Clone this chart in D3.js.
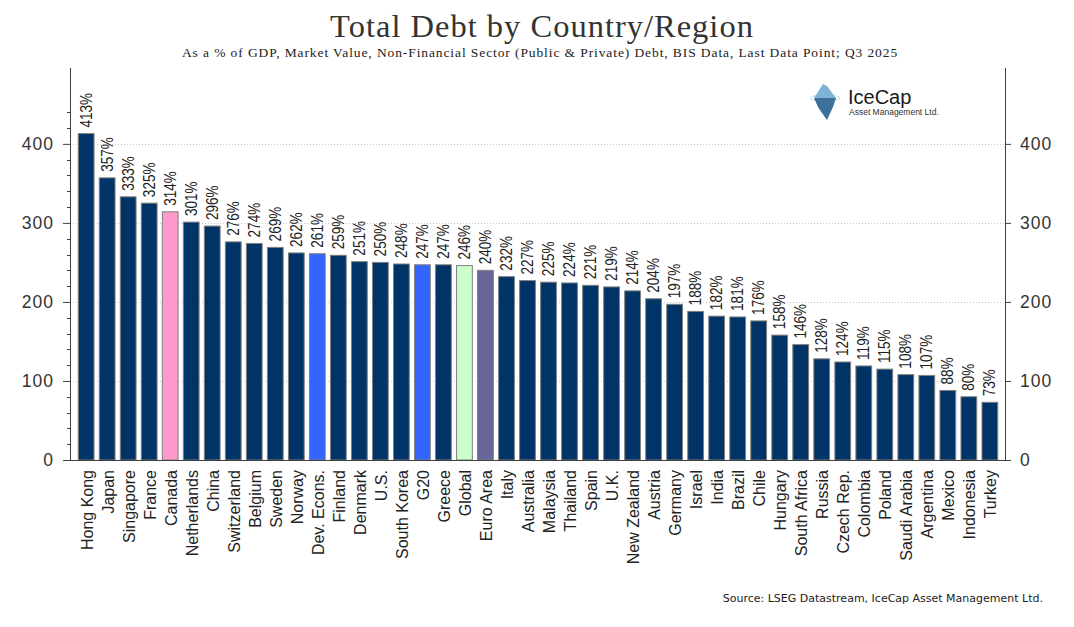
<!DOCTYPE html>
<html>
<head>
<meta charset="utf-8">
<script src="https://cdn.jsdelivr.net/npm/d3@7"></script>
<style>
  body { margin: 0; background: #fff; }
</style>
</head>
<body>
<svg id="chart" width="1074" height="627"></svg>
<script>
  var width = 1074;
  var height = 627;

  // data
  var categories = ["Hong Kong", "Japan", "Singapore", "France", "Canada", "Netherlands", "China",
    "Switzerland", "Belgium", "Sweden", "Norway", "Dev. Econs.", "Finland", "Denmark", "U.S.",
    "South Korea", "G20", "Greece", "Global", "Euro Area", "Italy", "Australia", "Malaysia",
    "Thailand", "Spain", "U.K.", "New Zealand", "Austria", "Germany", "Israel", "India", "Brazil",
    "Chile", "Hungary", "South Africa", "Russia", "Czech Rep.", "Colombia", "Poland",
    "Saudi Arabia", "Argentina", "Mexico", "Indonesia", "Turkey"];
  var values = [413, 357, 333, 325, 314, 301, 296, 276, 274, 269, 262, 261, 259, 251, 250,
    248, 247, 247, 246, 240, 232, 227, 225, 224, 221, 219, 214, 204, 197, 188, 182, 181,
    176, 158, 146, 128, 124, 119, 115, 108, 107, 88, 80, 73];
  var yTicks = [0, 100, 200, 300, 400];
  var yMinorTicks = [20, 40, 60, 80, 120, 140, 160, 180, 220, 240, 260, 280, 320, 340, 360, 380, 420, 440];

  var title = "Total Debt by Country/Region";
  var subtitle = "As a % of GDP, Market Value, Non-Financial Sector (Public & Private) Debt, BIS Data, Last Data Point; Q3 2025";
  var source = "Source: LSEG Datastream, IceCap Asset Management Ltd.";

  var baseColor = "#003366";
  var highlight = {
    "Canada": "#ff99cc",
    "Dev. Econs.": "#3366ff",
    "G20": "#3366ff",
    "Global": "#ccffcc",
    "Euro Area": "#666699"
  };

  var data = categories.map(function(c, i) { return {name: c, value: values[i]}; });

  var svg = d3.select("#chart");
  var plotLeft = 70, plotRight = 1005, plotTop = 68, plotBottom = 460;

  var x = d3.scaleBand().domain(categories).range([73, 1003]).paddingInner(0.25).paddingOuter(0.25);
  var y = d3.scaleLinear().domain([0, 496]).range([plotBottom, plotTop]);

  // gridlines
  svg.append("g").selectAll("line").data(yTicks.filter(function(d) { return d > 0; }))
    .enter().append("line")
    .attr("x1", plotLeft).attr("x2", plotRight)
    .attr("y1", function(d) { return Math.round(y(d)) + 0.5; })
    .attr("y2", function(d) { return Math.round(y(d)) + 0.5; })
    .attr("stroke", "#c8c8c8")
    .attr("stroke-dasharray", "1,2");

  // bars
  svg.append("g").selectAll("rect").data(data).enter().append("rect")
    .attr("x", function(d) { return x(d.name); })
    .attr("y", function(d) { return y(d.value); })
    .attr("width", x.bandwidth())
    .attr("height", function(d) { return plotBottom - y(d.value); })
    .attr("fill", function(d) { return highlight[d.name] || baseColor; })
    .attr("stroke", "#7f7f7f")
    .attr("stroke-width", 1);

  // value labels (narrow look: squeeze along the text direction)
  svg.append("g").selectAll("text").data(data).enter().append("text")
    .attr("transform", function(d) {
      return "translate(" + (x(d.name) + x.bandwidth() / 2) + "," + (y(d.value) - 6) + ") rotate(-90) scale(0.85,1)";
    })
    .attr("dy", "0.35em")
    .attr("text-anchor", "start")
    .style("font-family", "'Liberation Sans', Arial, sans-serif")
    .style("font-size", "16px")
    .style("fill", "#222")
    .text(function(d) { return d.value + "%"; });

  // category labels
  svg.append("g").selectAll("text").data(data).enter().append("text")
    .attr("transform", function(d) {
      return "translate(" + (x(d.name) + x.bandwidth() / 2 + 1) + ",470) rotate(-90)";
    })
    .attr("dy", "0.35em")
    .attr("text-anchor", "end")
    .style("font-family", "'Liberation Sans', Arial, sans-serif")
    .style("font-size", "16px")
    .style("fill", "#222")
    .text(function(d) { return d.name; });

  // axes
  var axisColor = "#404040";
  var leftAxis = d3.axisLeft(y).tickValues(yTicks).tickSize(7).tickPadding(9);
  var gl = svg.append("g").attr("transform", "translate(" + plotLeft + ",0)").call(leftAxis);
  gl.select(".domain").remove();
  gl.selectAll(".tick line").attr("stroke", axisColor);
  gl.selectAll(".tick text")
    .style("font-family", "'Liberation Sans', Arial, sans-serif")
    .style("font-size", "17.5px")
    .style("letter-spacing", "1px")
    .style("fill", "#333");
  gl.selectAll(".minor").data(yMinorTicks).enter().append("line")
    .attr("class", "minor")
    .attr("x1", -3).attr("x2", 0)
    .attr("y1", function(d) { return Math.round(y(d)) + 0.5; })
    .attr("y2", function(d) { return Math.round(y(d)) + 0.5; })
    .attr("stroke", axisColor);

  var rightAxis = d3.axisRight(y).tickValues(yTicks).tickSize(6).tickPadding(9);
  var gr = svg.append("g").attr("transform", "translate(" + plotRight + ",0)").call(rightAxis);
  gr.select(".domain").remove();
  gr.selectAll(".tick line").attr("stroke", axisColor);
  gr.selectAll(".tick text")
    .style("font-family", "'Liberation Sans', Arial, sans-serif")
    .style("font-size", "17.5px")
    .style("letter-spacing", "1px")
    .style("fill", "#333");

  svg.append("line").attr("x1", plotLeft + 0.5).attr("x2", plotLeft + 0.5).attr("y1", plotTop).attr("y2", plotBottom)
    .attr("stroke", axisColor);
  svg.append("line").attr("x1", plotRight + 0.5).attr("x2", plotRight + 0.5).attr("y1", plotTop).attr("y2", plotBottom)
    .attr("stroke", axisColor);
  svg.append("line").attr("x1", 63).attr("x2", 1011).attr("y1", plotBottom + 0.5).attr("y2", plotBottom + 0.5)
    .attr("stroke", axisColor);

  // titles
  svg.append("text")
    .attr("x", 542).attr("y", 37)
    .attr("text-anchor", "middle")
    .style("font-family", "'Liberation Serif', serif")
    .style("font-size", "32.5px")
    .style("letter-spacing", "1px")
    .style("fill", "#333")
    .text(title);
  svg.append("text")
    .attr("x", 540).attr("y", 57)
    .attr("text-anchor", "middle")
    .style("font-family", "'Liberation Serif', serif")
    .style("font-size", "13.5px")
    .style("letter-spacing", "0.9px")
    .style("fill", "#222")
    .text(subtitle);

  svg.append("text")
    .attr("x", 1043).attr("y", 602)
    .attr("text-anchor", "end")
    .style("font-family", "'DejaVu Sans', sans-serif")
    .style("font-size", "11px")
    .style("fill", "#222")
    .text(source);

  // logo
  var logo = svg.append("g").attr("transform", "translate(825,98)");
  logo.append("ellipse").attr("rx", 15).attr("ry", 3).attr("fill", "none")
    .attr("stroke", "#c4dcea").attr("stroke-width", 1);
  logo.append("path").attr("d", "M-11,0 L-2,-14 L2,-12 L11,0 Z").attr("fill", "#7fb3d3");
  logo.append("path").attr("d", "M-11,0 L11,0 L8,9 L2,22 L-3,15 L-7,9 Z").attr("fill", "#3d7199");
  svg.append("text").attr("x", 848).attr("y", 104)
    .style("font-family", "'Liberation Sans', Arial, sans-serif")
    .style("font-size", "20px")
    .style("fill", "#1a1a1a")
    .text("IceCap");
  svg.append("text").attr("x", 849).attr("y", 115)
    .style("font-family", "'Liberation Sans', Arial, sans-serif")
    .style("font-size", "8.5px")
    .style("fill", "#333")
    .text("Asset Management Ltd.");
</script>
</body>
</html>
